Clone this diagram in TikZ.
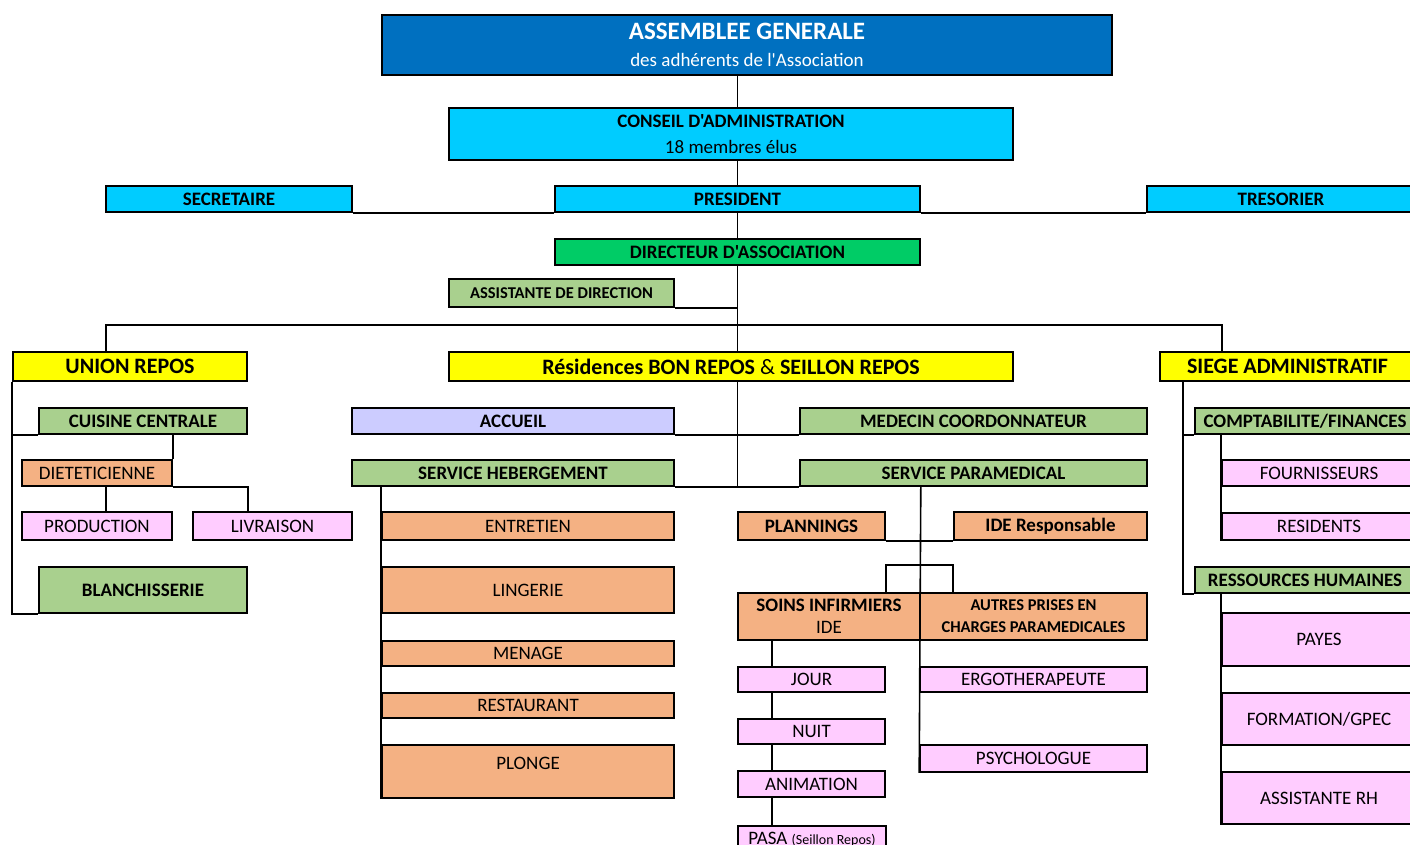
\documentclass[tikz,border=0pt]{standalone}
\usepackage{fontspec}
\setmainfont{Carlito}[Ligatures=TeXOff]
\usetikzlibrary{backgrounds}

\definecolor{agblue}{HTML}{0070C0}
\definecolor{cablue}{HTML}{00CCFF}
\definecolor{dirgreen}{HTML}{00CC66}
\definecolor{svcgreen}{HTML}{A9D08E}
\definecolor{grpyellow}{HTML}{FFFF00}
\definecolor{accviolet}{HTML}{CCCCFF}
\definecolor{suborange}{HTML}{F4B183}
\definecolor{leafpink}{HTML}{FFCCFF}

\begin{document}
\begin{tikzpicture}[x=1pt, y=-1pt,
  box/.style={draw, line width=1.6pt, inner sep=1pt, align=center, font=\fontsize{19}{22}\selectfont},
  bold/.style={font=\fontsize{19}{22}\selectfont\bfseries},
  big/.style={font=\fontsize{22}{26}\selectfont\bfseries},
  link/.style={line width=1.6pt}]
  \useasboundingbox (0,0) rectangle (1410,845);
  \clip (0,0) rectangle (1410,845);

  % Gouvernance
  \node[box, fill=agblue, text=white, minimum width=730pt, minimum height=60pt] (ag) at (747,45)
    {{\fontsize{25}{30}\selectfont\bfseries ASSEMBLEE GENERALE}\\[5pt]des adhérents de l'Association};
  \node[box, fill=cablue, minimum width=564pt, minimum height=52pt] (ca) at (731,134)
    {\bfseries CONSEIL D'ADMINISTRATION\\[4pt]18 membres élus};
  \node[box, bold, fill=cablue, minimum width=246pt, minimum height=26pt] (secr) at (229,199) {SECRETAIRE};
  \node[box, bold, fill=cablue, minimum width=365pt, minimum height=26pt] (pres) at (737.5,199) {PRESIDENT};
  \node[box, bold, fill=cablue, minimum width=268pt, minimum height=26pt] (treso) at (1281,199) {TRESORIER};
  \node[box, bold, fill=dirgreen, minimum width=365pt, minimum height=26pt] (dir) at (737.5,252) {DIRECTEUR D'ASSOCIATION};
  \node[box, fill=svcgreen, font=\fontsize{16.5}{20}\selectfont\bfseries, minimum width=225pt, minimum height=28pt] (assist) at (561.5,293) {ASSISTANTE DE DIRECTION};

  % Etablissements
  \node[box, big, fill=grpyellow, minimum width=234pt, minimum height=29pt] (union) at (130,366.5) {UNION REPOS};
  \node[box, big, fill=grpyellow, minimum width=564pt, minimum height=29pt] (resid) at (731,366.5) {Résidences BON REPOS {\mdseries\&} SEILLON REPOS};
  \node[box, big, fill=grpyellow, minimum width=255pt, minimum height=29pt] (siege) at (1287.5,366.5) {SIEGE ADMINISTRATIF};

  % Union Repos
  \node[box, bold, fill=svcgreen, minimum width=208pt, minimum height=26pt] (cuisine) at (143,421) {CUISINE CENTRALE};
  \node[box, fill=suborange, minimum width=150pt, minimum height=26pt] (diet) at (97,473) {DIETETICIENNE};
  \node[box, fill=leafpink, minimum width=150pt, minimum height=28pt] (prod) at (97,526) {PRODUCTION};
  \node[box, fill=leafpink, minimum width=159pt, minimum height=28pt] (livr) at (272.5,526) {LIVRAISON};
  \node[box, bold, fill=svcgreen, minimum width=208pt, minimum height=46pt] (blanch) at (143,590) {BLANCHISSERIE};

  % Residences
  \node[box, bold, fill=accviolet, minimum width=322pt, minimum height=26pt] (accueil) at (513,421) {ACCUEIL};
  \node[box, bold, fill=svcgreen, minimum width=347pt, minimum height=26pt] (medecin) at (973.5,421) {MEDECIN COORDONNATEUR};
  \node[box, bold, fill=svcgreen, minimum width=322pt, minimum height=26pt] (heberg) at (513,473) {SERVICE HEBERGEMENT};
  \node[box, bold, fill=svcgreen, minimum width=347pt, minimum height=26pt] (param) at (973.5,473) {SERVICE PARAMEDICAL};

  \node[box, fill=suborange, minimum width=292pt, minimum height=28pt] (entretien) at (528,526) {ENTRETIEN};
  \node[box, fill=suborange, minimum width=292pt, minimum height=46pt] (lingerie) at (528,590) {LINGERIE};
  \node[box, fill=suborange, minimum width=292pt, minimum height=25pt] (menage) at (528,653.5) {MENAGE};
  \node[box, fill=suborange, minimum width=292pt, minimum height=25pt] (restau) at (528,705.5) {RESTAURANT};
  \node[box, fill=suborange, minimum width=292pt, minimum height=53pt] (plonge) at (528,771.5) {\raisebox{16pt}{PLONGE}};

  \node[box, bold, fill=suborange, minimum width=147pt, minimum height=28pt] (plannings) at (811.5,526) {PLANNINGS};
  \node[box, bold, fill=suborange, minimum width=193pt, minimum height=28pt] (ideresp) at (1050.5,526) {IDE Responsable};
  \node[box, fill=suborange, minimum width=182pt, minimum height=47pt] (soins) at (829,616.5)
    {\bfseries SOINS INFIRMIERS\\IDE};
  \node[box, fill=suborange, font=\fontsize{16.5}{22}\selectfont\bfseries, minimum width=227pt, minimum height=47pt] (autres) at (1033.5,616.5)
    {AUTRES PRISES EN\\CHARGES PARAMEDICALES};
  \node[box, fill=leafpink, minimum width=147pt, minimum height=25pt] (jour) at (811.5,679.5) {JOUR};
  \node[box, fill=leafpink, minimum width=147pt, minimum height=25pt] (nuit) at (811.5,731.5) {NUIT};
  \node[box, fill=leafpink, minimum width=147pt, minimum height=26pt] (anim) at (811.5,784) {ANIMATION};
  \node[box, fill=leafpink, minimum width=148pt, minimum height=26pt] (pasa) at (812,839)
    {PASA {\fontsize{14}{16}\selectfont(Seillon Repos)}};
  \node[box, fill=leafpink, minimum width=227pt, minimum height=25pt] (ergo) at (1033.5,679.5) {ERGOTHERAPEUTE};
  \node[box, fill=leafpink, minimum width=227pt, minimum height=27pt] (psycho) at (1033.5,758.5) {PSYCHOLOGUE};

  % Siege
  \node[box, bold, fill=svcgreen, minimum width=220pt, minimum height=26pt] (compta) at (1305,421) {COMPTABILITE/FINANCES};
  \node[box, fill=leafpink, minimum width=194pt, minimum height=26pt] (fourn) at (1319,473) {FOURNISSEURS};
  \node[box, fill=leafpink, minimum width=194pt, minimum height=27pt] (clients) at (1319,526.5) {RESIDENTS};
  \node[box, bold, fill=svcgreen, minimum width=220pt, minimum height=26pt] (rh) at (1305,580) {RESSOURCES HUMAINES};
  \node[box, fill=leafpink, minimum width=194pt, minimum height=53pt] (payes) at (1319,639.5) {PAYES};
  \node[box, fill=leafpink, minimum width=194pt, minimum height=52pt] (gpec) at (1319,719) {FORMATION/GPEC};
  \node[box, fill=leafpink, minimum width=194pt, minimum height=52pt] (assrh) at (1319,798) {ASSISTANTE RH};

  \coordinate (jl) at (106,325);
  \coordinate (jr) at (1222,325);

  \begin{scope}[on background layer]
    \draw[link] (ag.south -| pres) -- (resid.north -| pres);
    \draw[link] (secr.south east) -- (pres.south west);
    \draw[link] (pres.south east) -- (treso.south west);
    \draw[link] (assist.south east) -- (assist.south east -| pres);
    \draw[link] (union.north -| jl) -- (jl) -- (jr) -- (siege.north -| jr);

    \draw[link] (union.south west) -- (blanch.south west -| union.west) -- (blanch.south west);
    \draw[link] (cuisine.south west -| union.west) -- (cuisine.south west);
    \draw[link] (cuisine.south -| diet.east) -- (diet.north east);
    \draw[link] (diet.south east) -| (cuisine.east |- livr.north);
    \draw[link] (diet.south -| jl) -- (prod.north -| jl);

    \draw[link] (resid.south -| pres) -- (heberg.south -| pres);
    \draw[link] (accueil.south east) -- (medecin.south west);
    \draw[link] (heberg.south east) -- (param.south west);
    \draw[link] (heberg.south -| entretien.west) -- (plonge.south west);
    \draw[link] (param.south -| soins.east) -- (psycho.south west);
    \draw[link] (plannings.south east) -- (ideresp.south west);
    \draw[link] (plannings.east |- soins.north) -- ++(0,-27) -| (ideresp.west |- autres.north);
    \draw[link] ([xshift=35pt]soins.south west) -- ([xshift=35pt]pasa.north west);

    \draw[link] ([xshift=24pt]siege.south west) |- (compta.south west);
    \draw[link] ([xshift=24pt]siege.south west) |- (rh.south west);
    \draw[link] (compta.south -| fourn.west) -- (clients.south west);
    \draw[link] (rh.south -| payes.west) -- (assrh.south west);
  \end{scope}
\end{tikzpicture}
\end{document}
